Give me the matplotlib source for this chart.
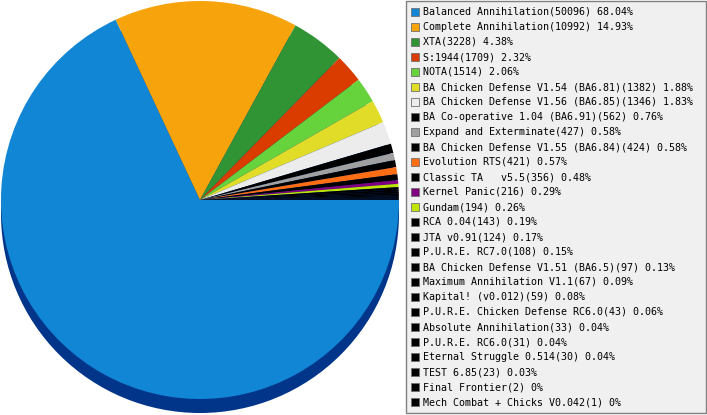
import matplotlib
matplotlib.use("Agg")
import matplotlib.pyplot as plt
from matplotlib.patches import Rectangle, Circle

names = [
    "Balanced Annihilation", "Complete Annihilation", "XTA", "S:1944", "NOTA",
    "BA Chicken Defense V1.54 (BA6.81)", "BA Chicken Defense V1.56 (BA6.85)",
    "BA Co-operative 1.04 (BA6.91)", "Expand and Exterminate",
    "BA Chicken Defense V1.55 (BA6.84)", "Evolution RTS", "Classic TA   v5.5",
    "Kernel Panic", "Gundam", "RCA 0.04", "JTA v0.91", "P.U.R.E. RC7.0",
    "BA Chicken Defense V1.51 (BA6.5)", "Maximum Annihilation V1.1",
    "Kapital! (v0.012)", "P.U.R.E. Chicken Defense RC6.0", "Absolute Annihilation",
    "P.U.R.E. RC6.0", "Eternal Struggle 0.514", "TEST 6.85", "Final Frontier",
    "Mech Combat + Chicks V0.042",
]
counts = [50096, 10992, 3228, 1709, 1514, 1382, 1346, 562, 427, 424, 421, 356,
          216, 194, 143, 124, 108, 97, 67, 59, 43, 33, 31, 30, 23, 2, 1]
percents = ["68.04", "14.93", "4.38", "2.32", "2.06", "1.88", "1.83", "0.76",
            "0.58", "0.58", "0.57", "0.48", "0.29", "0.26", "0.19", "0.17",
            "0.15", "0.13", "0.09", "0.08", "0.06", "0.04", "0.04", "0.04",
            "0.03", "0", "0"]
colors = ["#1086d5", "#f7a30b", "#309434", "#da3c00", "#66d23c", "#e0dc28",
          "#ececec", "#000000", "#a0a0a0", "#000000", "#ff6e14", "#000000",
          "#800080", "#bee600"] + ["#000000"] * 13
shadow_color = "#003589"

W, H = 707, 415
fig = plt.figure(figsize=(W / 100, H / 100), dpi=100)
ax = fig.add_axes([0, 0, 1, 1])

cx, cy, r = 200, H - 200, 199
shadow_dy = 14

ax.add_patch(Circle((cx, cy - shadow_dy), r, facecolor=shadow_color,
                    edgecolor="none", zorder=1))
wedges, _ = ax.pie(counts, colors=colors, startangle=0, counterclock=False,
                   center=(cx, cy), radius=r, frame=True,
                   wedgeprops=dict(linewidth=0, antialiased=True))
for w in wedges:
    w.set_zorder(2)

# legend box
bx0, bx1, by0, by1 = 405.5, 706, 1, 413
ax.add_patch(Rectangle((bx0, H - by1), bx1 - bx0, by1 - by0,
                       facecolor="#f0f0f0", edgecolor="#808080",
                       linewidth=1, zorder=3))
row0, step = 12, 15
for i, (n, c, p, col) in enumerate(zip(names, counts, percents, colors)):
    yc = H - (row0 + i * step)
    ax.add_patch(Rectangle((411, yc - 4), 8, 8, facecolor=col,
                           edgecolor="#707070", linewidth=0.6, zorder=4))
    ax.text(423, yc, f"{n}({c}) {p}%", fontsize=7.2,
            family="DejaVu Sans Mono", va="center", ha="left",
            color="#000000", zorder=5)

ax.set_xlim(0, W)
ax.set_ylim(0, H)
ax.set_aspect("auto")
ax.axis("off")
fig.savefig("out.png", dpi=100)
